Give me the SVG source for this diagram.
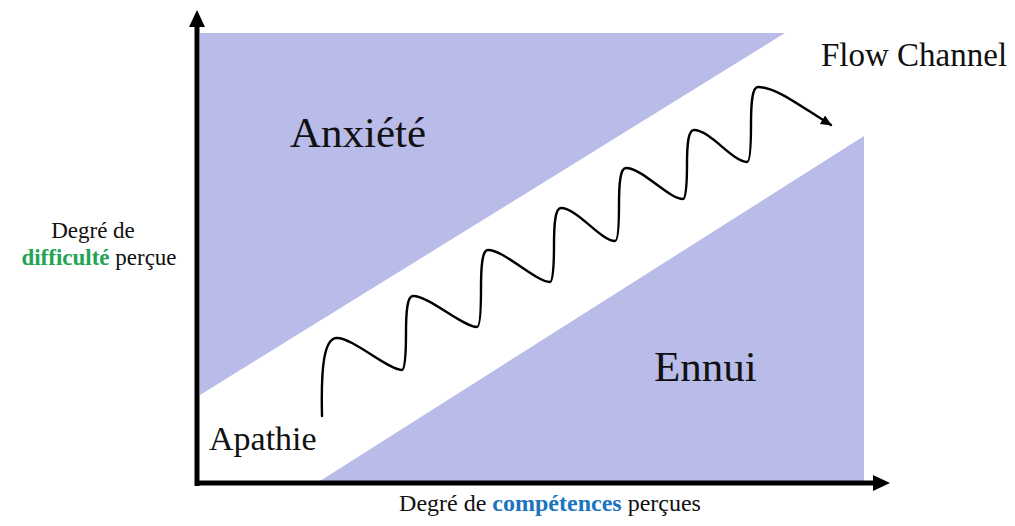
<svg xmlns="http://www.w3.org/2000/svg" width="1015" height="526" viewBox="0 0 1015 526">
  <style>
    .zone { fill: #b9bbe8; stroke: none; }
    .lbl { font-family: "Liberation Serif", "Times New Roman", serif; fill: #111; }
    .axis { stroke: #000; stroke-width: 5; fill: none; }
    .wave { stroke: #000; stroke-width: 2.4; fill: none; stroke-linecap: round; stroke-linejoin: round; }
  </style>
  <defs>
    <marker id="axisHead" markerUnits="userSpaceOnUse" markerWidth="18" markerHeight="18" refX="0" refY="9" orient="auto">
      <path d="M0,1 L17,9 L0,17 Z" fill="#000"/>
    </marker>
    <marker id="waveHead" markerUnits="userSpaceOnUse" markerWidth="12" markerHeight="12" refX="10" refY="5" orient="auto">
      <path d="M0,0 L11,5 L0,10 Z" fill="#000"/>
    </marker>
  </defs>
  <rect width="1015" height="526" fill="#fff"/>

  <g id="zone-anxiete">
    <polygon class="zone" points="200,33 785,33 200,395"/>
    <text class="lbl" x="290" y="147" font-size="43">Anxiété</text>
  </g>
  <g id="zone-ennui">
    <polygon class="zone" points="320,481 864,136 864,481"/>
    <text class="lbl" x="654" y="381" font-size="43">Ennui</text>
  </g>
  <g id="zone-apathie">
    <text class="lbl" x="209" y="450" font-size="34">Apathie</text>
  </g>
  <g id="zone-flow">
    <text class="lbl" x="821" y="66" font-size="33">Flow Channel</text>
  </g>

  <g id="connectors">
    <line class="axis" x1="197" y1="486" x2="197" y2="27" marker-end="url(#axisHead)"/>
    <line class="axis" x1="195" y1="483" x2="873" y2="483" marker-end="url(#axisHead)"/>
    <path class="wave" marker-end="url(#waveHead)" d="M322,416 C321,372 323,338 337,338
      C353,338 388,370 402,370 C405,370 406,353 406,333 C406,313 407,296 413,296
      C429,296 463,327 477,327 C480,327 481,311 481,288.5 C481,267 482,250 488,250
      C504,250 536,282 550,282 C553,282 554,265 554,245 C554,225 555,208 561,208
      C577,208 601,241 615,241 C618,241 619,225 619,204.5 C619,184 620,168 626,168
      C642,168 669,199 683,199 C686,199 687,183 687,164.5 C687,145 688,130 694,130
      C710,130 733,162 747,162 C750,162 751,145 751,124.5 C751,104 752,87 758,87
      C776,87 800,106 831,125"/>
  </g>

  <g id="label-y">
    <text class="lbl" x="93" y="238" font-size="23" text-anchor="middle">Degré de</text>
    <text class="lbl" x="99" y="265" font-size="23" text-anchor="middle"><tspan font-weight="bold" fill="#22a455">difficulté</tspan> perçue</text>
  </g>
  <g id="label-x">
    <text class="lbl" x="550" y="511" font-size="24" text-anchor="middle">Degré de <tspan font-weight="bold" fill="#1b74c0">compétences</tspan> perçues</text>
  </g>
</svg>
